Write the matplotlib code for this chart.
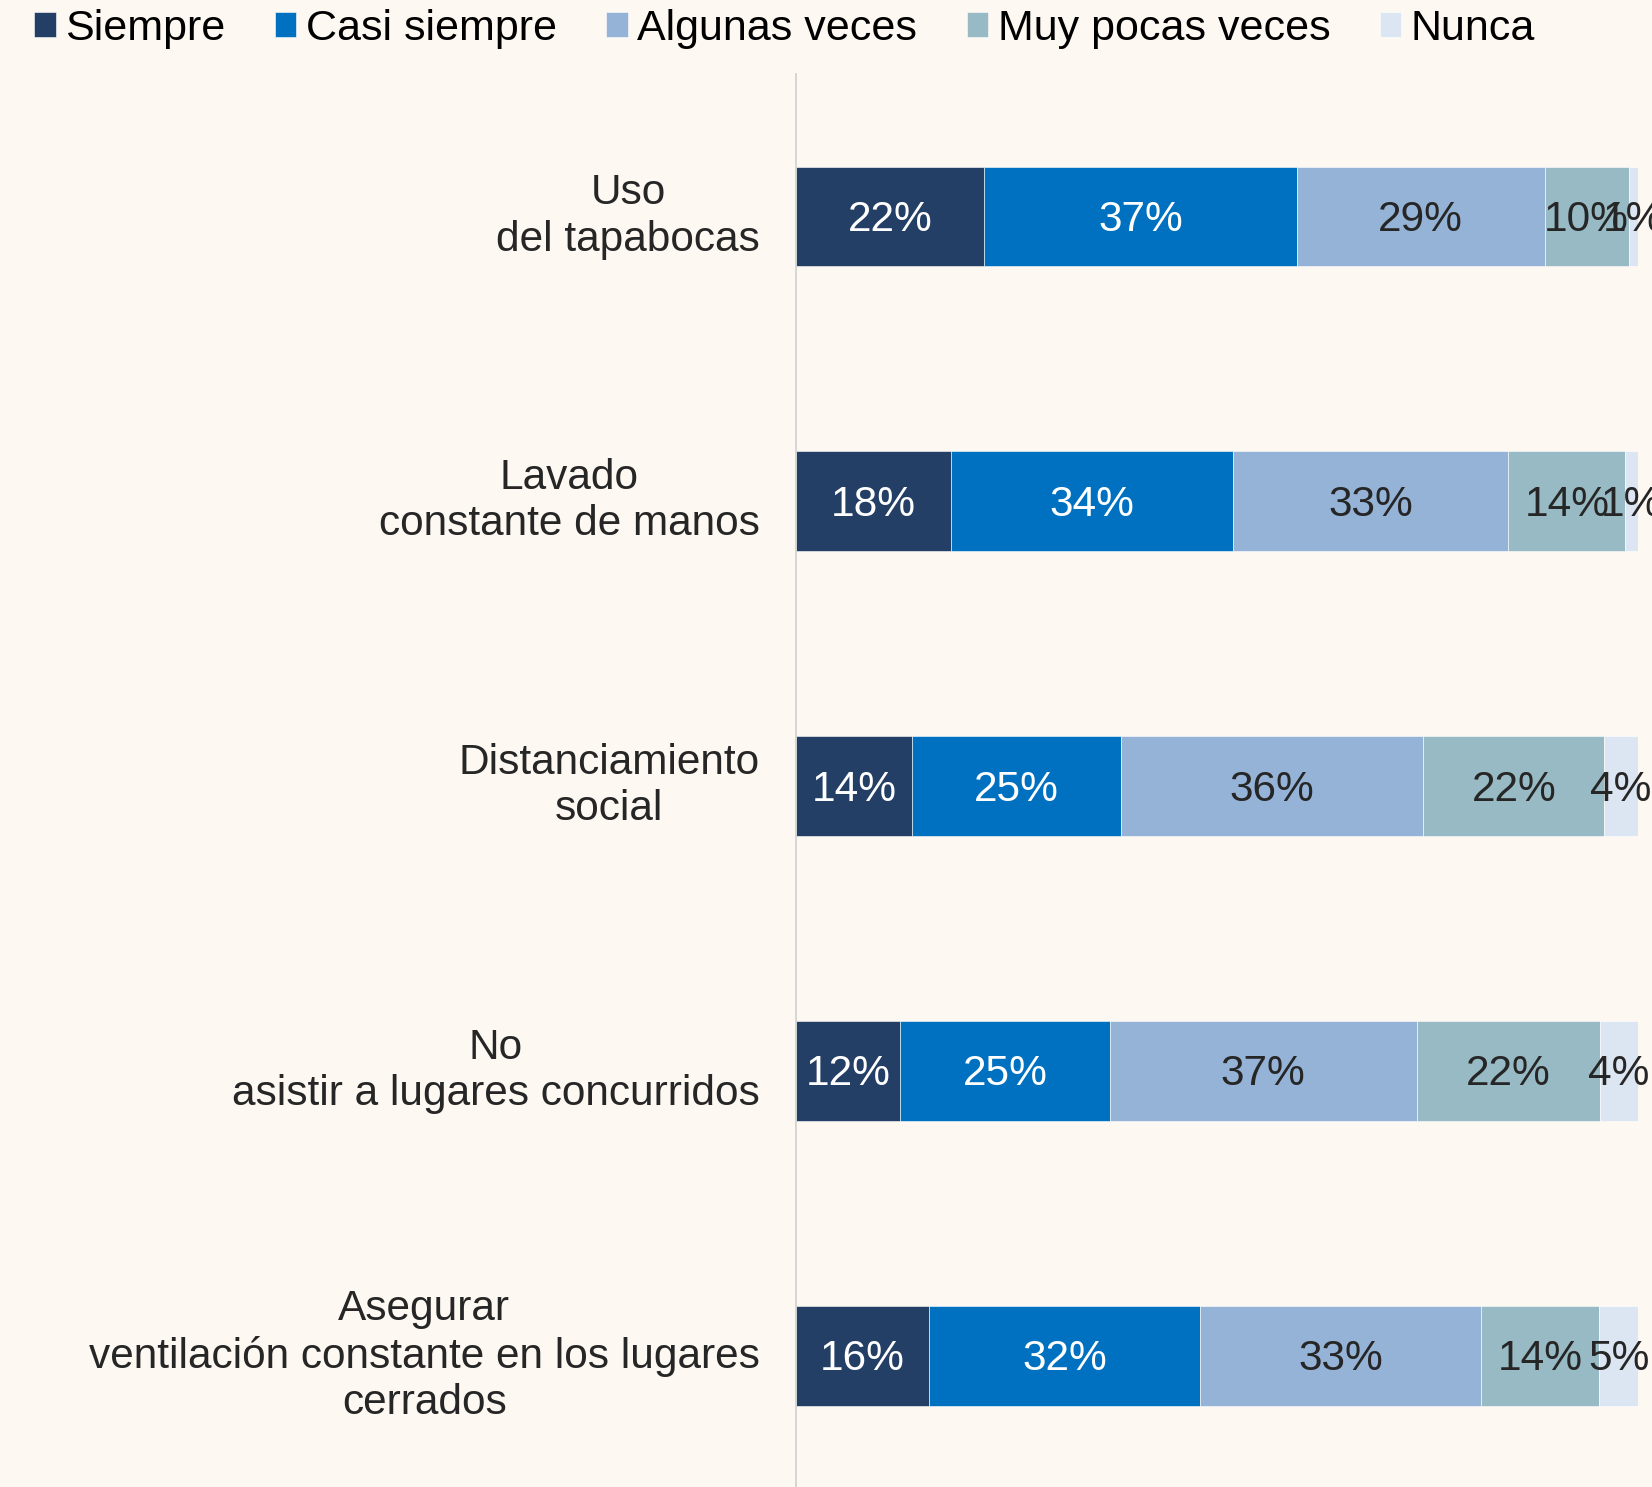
import numpy as np
import matplotlib.pyplot as plt

plt.rcParams['font.family'] = ['Liberation Sans', 'DejaVu Sans']

categories = [
    "Uso\ndel tapabocas",
    "Lavado\nconstante de manos",
    "Distanciamiento\nsocial",
    "No\nasistir a lugares concurridos",
    "Asegurar\nventilación constante en los lugares\ncerrados",
]
series = ["Siempre", "Casi siempre", "Algunas veces", "Muy pocas veces", "Nunca"]

# segment widths (percent of row)
siempre = [22.3, 18.4, 13.8, 12.4, 15.8]
casi_siempre = [37.2, 33.5, 24.8, 24.9, 32.2]
algunas_veces = [29.4, 32.7, 35.9, 36.4, 33.3]
muy_pocas = [10.0, 13.9, 21.5, 21.8, 14.1]
nunca = [1.1, 1.5, 4.0, 4.5, 4.6]

# printed labels
lab_siempre = [22, 18, 14, 12, 16]
lab_casi = [37, 34, 25, 25, 32]
lab_algunas = [29, 33, 36, 37, 33]
lab_pocas = [10, 14, 22, 22, 14]
lab_nunca = [1, 1, 4, 4, 5]

colors = ["#243F66", "#0070C0", "#95B3D7", "#97BAC4", "#DCE6F2"]
text_colors = ["white", "white", "#262626", "#262626", "#262626"]
bg = "#FDF8F2"

data = [siempre, casi_siempre, algunas_veces, muy_pocas, nunca]
labels = [lab_siempre, lab_casi, lab_algunas, lab_pocas, lab_nunca]

fig = plt.figure(figsize=(16.52, 14.87), dpi=100, facecolor=bg)
ax = fig.add_axes([796 / 1652, 0, (1638 - 796) / 1652, 1 - 74 / 1487])
ax.set_facecolor(bg)

y = np.arange(len(categories))
left = np.zeros(len(categories))
for vals, labs, col, tcol, name in zip(data, labels, colors, text_colors, series):
    vals = np.array(vals)
    bars = ax.barh(y, vals, left=left, height=0.35, color=col, label=name,
                   edgecolor="white", linewidth=0.4)
    for b, lab in zip(bars, labs):
        ax.text(b.get_x() + b.get_width() / 2, b.get_y() + b.get_height() / 2 + 0.012,
                f"{lab}%", ha="center", va="center", color=tcol, fontsize=30.5)
    left += vals

ax.set_xlim(0, 100)
ax.set_ylim(4.46, -0.5)
ax.set_xticks([])
ax.set_yticks([])
for s in ["top", "right", "bottom"]:
    ax.spines[s].set_visible(False)
ax.spines["left"].set_color("#D0D0D0")
ax.spines["left"].set_linewidth(1.2)

for yi, cat in zip(y, categories):
    ax.text(-4.3, yi, cat, ha="right", va="center", multialignment="center",
            fontsize=30.5, color="#262626", linespacing=1.2)

fig.legend(loc="center left", bbox_to_anchor=(34 / 1652, 1 - 29 / 1487), ncol=5,
           frameon=False, borderpad=0, borderaxespad=0,
           fontsize=31, handlelength=0.5, handleheight=0.5, handletextpad=0.22,
           columnspacing=1.15)

fig.savefig("out.png", dpi=100, facecolor=bg)
